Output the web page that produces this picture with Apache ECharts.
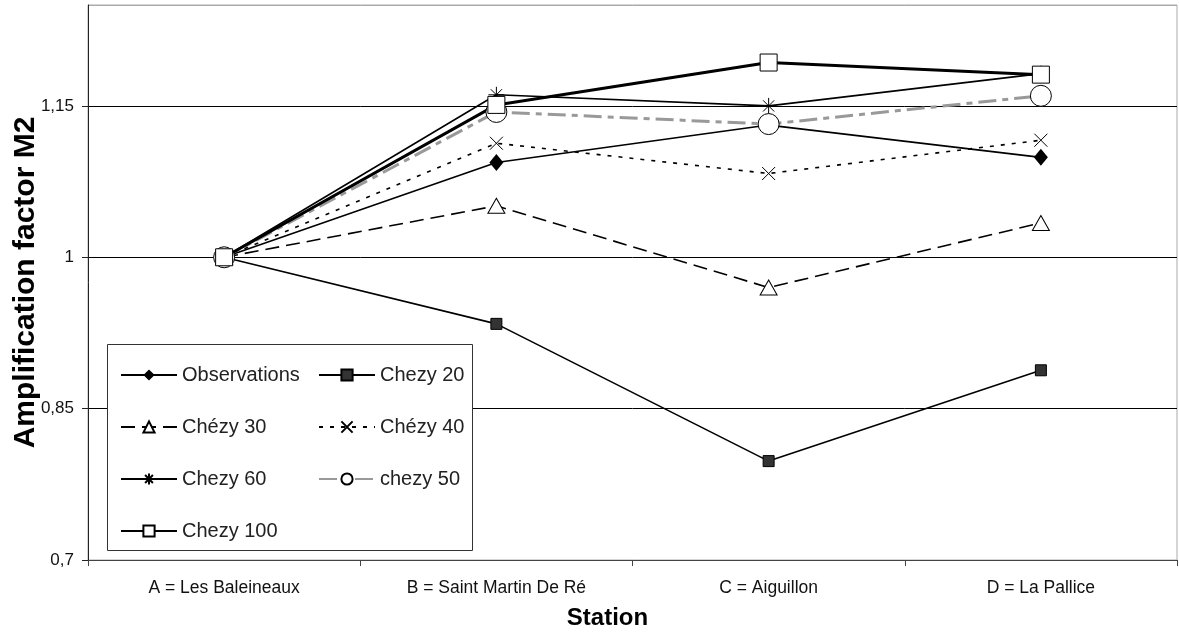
<!DOCTYPE html>
<html>
<head>
<meta charset="utf-8">
<script src="https://cdn.jsdelivr.net/npm/echarts@6/dist/echarts.min.js"></script>
<style>html,body{margin:0;padding:0;background:#fff;}#c{width:1179px;height:634px;}</style>
</head>
<body>
<div id="c"></div>
<script>
const categories = ['A = Les Baleineaux', 'B = Saint Martin De Ré', 'C = Aiguillon', 'D = La Pallice'];
const yTicks = [0.7, 0.85, 1, 1.15];
const observations = [1, 1.094, 1.131, 1.099];
const chezy20 = [1, 0.934, 0.798, 0.888];
const chezy30 = [1, 1.051, 0.970, 1.034];
const chezy40 = [1, 1.113, 1.083, 1.116];
const chezy60 = [1, 1.161, 1.150, 1.182];
const chezy50 = [1, 1.144, 1.132, 1.160];
const chezy100 = [1, 1.151, 1.193, 1.181];

const font = '"Liberation Sans", Arial, sans-serif';
const X_PATH = 'path://M0,0L10,10M10,0L0,10';
const STAR_PATH = 'path://M5,0L5,10M0,5L10,5M1.5,1.5L8.5,8.5M8.5,1.5L1.5,8.5';

function mk(name, data, line, sym, size, item, z) {
  return {
    name: name, type: 'line', data: data, z: z,
    symbol: sym, symbolSize: size, showAllSymbol: true,
    lineStyle: line, itemStyle: item,
    emphasis: { disabled: true }, animation: false
  };
}

const series = [
  mk('Observations', observations, { color: '#000', width: 1.6, type: 'solid' }, 'diamond', [14, 17], { color: '#000', borderColor: '#000', borderWidth: 0 }, 3),
  mk('Chezy 20', chezy20, { color: '#000', width: 1.6, type: 'solid' }, 'rect', 11, { color: '#333', borderColor: '#000', borderWidth: 1 }, 3),
  mk('Chézy 30', chezy30, { color: '#000', width: 1.6, type: [14, 7] }, 'triangle', [17, 15], { color: '#fff', borderColor: '#000', borderWidth: 1 }, 3),
  mk('Chézy 40', chezy40, { color: '#000', width: 1.6, type: [4, 7] }, X_PATH, 13, { color: 'none', borderColor: '#000', borderWidth: 1 }, 3),
  mk('Chezy 60', chezy60, { color: '#000', width: 1.6, type: 'solid' }, STAR_PATH, 16, { color: 'none', borderColor: '#000', borderWidth: 1 }, 3),
  mk('chezy 50', chezy50, { color: '#999', width: 3, type: [18, 6, 6, 6] }, 'circle', 21, { color: '#fff', borderColor: '#000', borderWidth: 1 }, 3),
  mk('Chezy 100', chezy100, { color: '#000', width: 3, type: 'solid' }, 'rect', 17, { color: '#fff', borderColor: '#000', borderWidth: 1 }, 3)
];

const legendCommon = {
  orient: 'vertical', itemWidth: 56, itemHeight: 14, itemGap: 32,
  textStyle: { fontFamily: font, fontSize: 20, color: '#222', lineHeight: 20 },
  selectedMode: false, z: 6
};

const option = {
  animation: false,
  backgroundColor: '#fff',
  grid: { left: 88, right: 2, top: 5, bottom: 74, show: true, borderColor: '#aaa', borderWidth: 1, containLabel: false, outerBoundsMode: 'none' },
  xAxis: {
    type: 'category', data: categories, boundaryGap: true,
    axisLine: { lineStyle: { color: '#444', width: 1 } },
    axisTick: { show: true, length: 6, lineStyle: { color: '#444' } },
    axisLabel: { fontFamily: font, fontSize: 17.5, color: '#111', margin: 19 },
    name: 'Station', nameLocation: 'middle', nameGap: 46,
    nameTextStyle: { fontFamily: font, fontSize: 24, fontWeight: 'bold', color: '#000', padding: [0, 50, 0, 0] }
  },
  yAxis: {
    type: 'value', min: yTicks[0], max: 1.25, interval: 0.15,
    axisLine: { show: true, lineStyle: { color: '#222', width: 1 } },
    axisTick: { show: true, length: 6, lineStyle: { color: '#222' } },
    axisLabel: {
      fontFamily: font, fontSize: 17, color: '#111', margin: 14, showMaxLabel: false,
      formatter: v => String(+v.toFixed(2)).replace('.', ',')
    },
    splitLine: { show: true, lineStyle: { color: ['#444', '#000', '#000', '#000', '#aaa'], width: 1 } },
    name: 'Amplification factor M2', nameLocation: 'middle', nameGap: 47, nameRotate: 90, nameMoveOverlap: false,
    nameTextStyle: { fontFamily: font, fontSize: 30, fontWeight: 'bold', color: '#000' }
  },
  legend: [
    Object.assign({}, legendCommon, { left: 115, top: 360, data: ['Observations', 'Chézy 30', 'Chezy 60', 'Chezy 100'] }),
    Object.assign({}, legendCommon, { left: 313, top: 360, data: ['Chezy 20', 'Chézy 40', 'chezy 50'] })
  ],
  graphic: [{
    type: 'rect', z: 5, left: 107, top: 344,
    shape: { width: 365, height: 206 },
    style: { fill: '#fff', stroke: '#333', lineWidth: 1 }
  }],
  series: series
};

const chart = echarts.init(document.getElementById('c'), null, { renderer: 'canvas' });
chart.setOption(option);
</script>
</body>
</html>
